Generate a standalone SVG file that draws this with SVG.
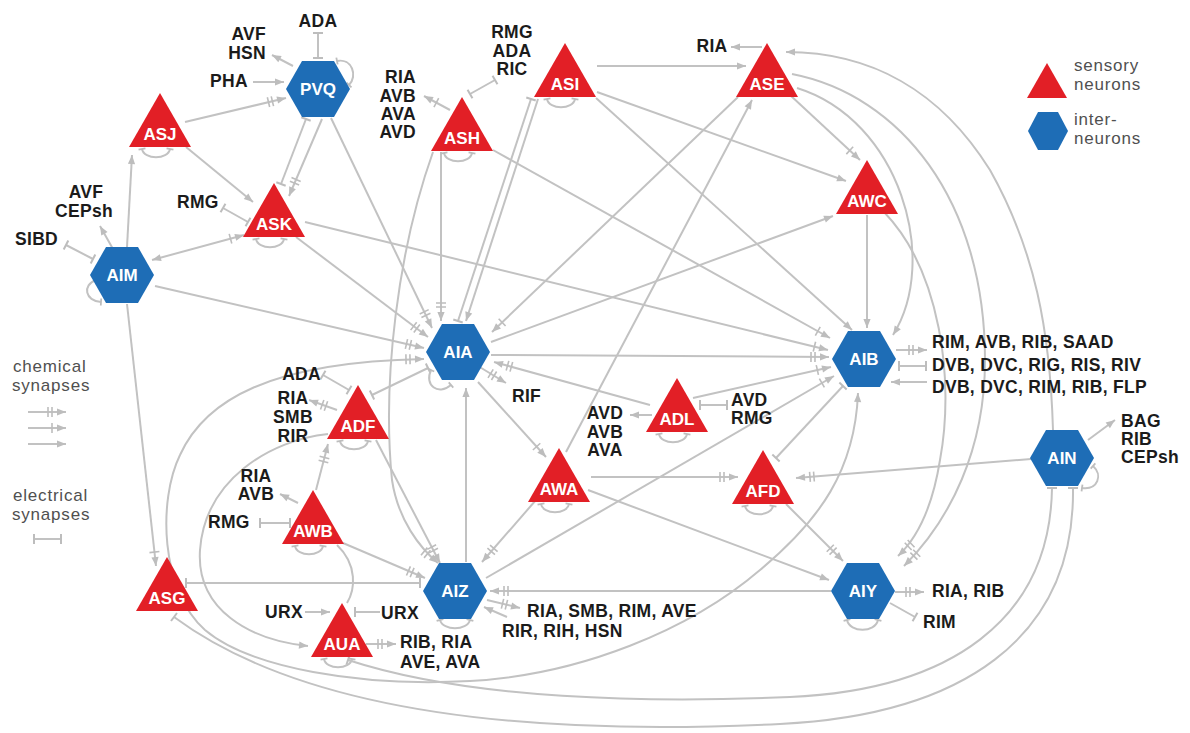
<svg xmlns="http://www.w3.org/2000/svg" width="1190" height="733" viewBox="0 0 1190 733">
<style>
.e{fill:none;stroke:#c2c2c2;stroke-width:2}
.lp{fill:none;stroke:#c2c2c2;stroke-width:2;marker-start:url(#bs);marker-end:url(#bs)}
.tri{fill:#e21f26}
.hex{fill:#1e6db6}
.nl{font-family:"Liberation Sans",Arial,sans-serif;font-weight:bold;font-size:17px;fill:#fff;text-anchor:middle}
.t{font-family:"Liberation Sans",Arial,sans-serif;font-weight:bold;font-size:17.5px;fill:#1b1b1b;letter-spacing:.3px}
.lg{font-family:"Liberation Sans",Arial,sans-serif;font-size:17px;fill:#505050;letter-spacing:.8px}
.m{text-anchor:middle}
.n{text-anchor:end}
</style>
<defs>
<marker id="a0" viewBox="-22 -7 24 14" refX="0" refY="0" markerWidth="24" markerHeight="14" markerUnits="userSpaceOnUse" orient="auto-start-reverse">
<path d="M0,0 L-9,-3.6 L-9,3.6 Z" fill="#bdbdbd"/>
</marker>
<marker id="a1" viewBox="-22 -7 24 14" refX="0" refY="0" markerWidth="24" markerHeight="14" markerUnits="userSpaceOnUse" orient="auto-start-reverse">
<path d="M0,0 L-9,-3.6 L-9,3.6 Z" fill="#bdbdbd"/>
<path d="M-14,-5 V5" stroke="#bdbdbd" stroke-width="1.6"/>
</marker>
<marker id="a2" viewBox="-22 -7 24 14" refX="0" refY="0" markerWidth="24" markerHeight="14" markerUnits="userSpaceOnUse" orient="auto-start-reverse">
<path d="M0,0 L-9,-3.6 L-9,3.6 Z" fill="#bdbdbd"/>
<path d="M-14,-5 V5 M-18,-5 V5" stroke="#bdbdbd" stroke-width="1.6"/>
</marker>
<marker id="b" viewBox="-3 -7 6 14" refX="0" refY="0" markerWidth="6" markerHeight="14" markerUnits="userSpaceOnUse" orient="auto">
<path d="M0,-5 V5" stroke="#bdbdbd" stroke-width="2"/>
</marker>
<marker id="bs" viewBox="-3 -5 6 10" refX="0" refY="0" markerWidth="6" markerHeight="10" markerUnits="userSpaceOnUse" orient="auto">
<path d="M0,-3.5 V3.5" stroke="#bdbdbd" stroke-width="1.8"/>
</marker>
</defs>
<rect width="1190" height="733" fill="#fff"/>

<g id="connectors">
<!-- big curves -->
<path class="e" d="M858,393 C855,470 820,520 760,570 C690,630 580,675 470,681 C360,687 250,668 205,630 C160,590 158,500 180,455 C205,400 270,362 424,359" marker-start="url(#a0)" marker-end="url(#a2)"/>
<path class="e" d="M328,434 C270,440 205,480 200,550 C196,610 250,640 308,646" marker-end="url(#a0)"/>
<path class="e" d="M1073,488 C1075,640 960,715 780,724 C580,734 320,725 174,617" marker-start="url(#b)" marker-end="url(#b)"/>
<path class="e" d="M1052,488 C1050,620 950,690 790,697 C650,703 470,700 348,660" marker-start="url(#b)" marker-end="url(#b)"/>
<path class="e" d="M1053,430 C1050,330 1035,250 990,170 C940,90 870,52 786,52" marker-end="url(#a0)"/>
<path class="e" d="M797,88 C900,120 940,260 893,335" marker-end="url(#a0)"/>
<path class="e" d="M792,74 C900,95 985,200 985,360 C985,450 950,520 904,566" marker-end="url(#a2)"/>
<path class="e" d="M884,212 C940,270 955,380 940,460 C932,510 915,540 898,556" marker-end="url(#a2)"/>
<path class="e" d="M433,152 C398,250 382,380 392,480 C398,520 420,548 438,563" marker-end="url(#a2)"/>
<path class="e" d="M337,545 C358,565 355,590 347,603"/>

<!-- top-left -->
<path class="e" d="M318,33 L318,58" marker-start="url(#b)" marker-end="url(#b)"/>
<path class="e" d="M293,66 L272,55" marker-end="url(#a0)"/>
<path class="e" d="M253,82 L284,82" marker-end="url(#a0)"/>
<path class="e" d="M185,122 L286,98" marker-end="url(#a2)"/>
<path class="e" d="M186,147 L253,202" marker-end="url(#a0)"/>
<path class="e" d="M306,119 L281,184" marker-start="url(#b)" marker-end="url(#b)"/>
<path class="e" d="M322,119 L289,196" marker-end="url(#a2)"/>
<path class="e" d="M331,118 L432,328" marker-end="url(#a2)"/>
<path class="e" d="M223,208 L248,222" marker-start="url(#b)" marker-end="url(#b)"/>
<path class="e" d="M152,260 L244,235" marker-start="url(#a0)" marker-end="url(#a1)"/>
<path class="e" d="M127,247 L132,155" marker-end="url(#a0)"/>
<path class="e" d="M113,249 L100,226" marker-end="url(#a0)"/>
<path class="e" d="M66,245 L93,259" marker-start="url(#b)" marker-end="url(#b)"/>
<path class="e" d="M155,286 L424,348" marker-end="url(#a2)"/>
<path class="e" d="M127,304 L156,566" marker-end="url(#a1)"/>
<path class="e" d="M296,237 L428,337" marker-end="url(#a2)"/>
<path class="e" d="M305,222 L828,350" marker-end="url(#a1)"/>

<!-- top-center -->
<path class="e" d="M450,110 L424,96" marker-end="url(#a1)"/>
<path class="e" d="M470,94 L495,80" marker-start="url(#b)" marker-end="url(#b)"/>
<path class="e" d="M597,66 L746,66" marker-end="url(#a0)"/>
<path class="e" d="M762,47 L731,47" marker-end="url(#a0)"/>
<path class="e" d="M441,152 L441,321" marker-end="url(#a2)"/>
<path class="e" d="M538,99 L466,321" marker-end="url(#a0)"/>
<path class="e" d="M531,99 L458,321" marker-start="url(#b)" marker-end="url(#b)"/>
<path class="e" d="M738,97 L492,332" marker-end="url(#a1)"/>
<path class="e" d="M566,452 L752,100" marker-end="url(#a0)"/>
<path class="e" d="M790,95 L860,160" marker-end="url(#a1)"/>
<path class="e" d="M597,92 L846,181" marker-end="url(#a0)"/>
<path class="e" d="M596,98 L852,330" marker-end="url(#a0)"/>
<path class="e" d="M493,150 L830,338" marker-end="url(#a1)"/>
<path class="e" d="M491,342 L833,216" marker-end="url(#a0)"/>
<path class="e" d="M867,215 L867,328" marker-end="url(#a0)"/>

<!-- center -->
<path class="e" d="M491,355 L829,357" marker-end="url(#a2)"/>
<path class="e" d="M650,405 L494,362" marker-end="url(#a2)"/>
<path class="e" d="M478,366 L506,383" marker-end="url(#a2)"/>
<path class="e" d="M478,382 L546,457" marker-end="url(#a1)"/>
<path class="e" d="M466,562 L466,388" marker-end="url(#a0)"/>
<path class="e" d="M428,368 L372,395" marker-start="url(#b)" marker-end="url(#b)"/>

<!-- lower-left -->
<path class="e" d="M305,612 L330,612" marker-end="url(#a0)"/>
<path class="e" d="M355,612 L380,612" marker-start="url(#b)"/>
<path class="e" d="M366,644 L396,644" marker-end="url(#a2)"/>
<path class="e" d="M316,490 L328,444" marker-end="url(#a2)"/>
<path class="e" d="M298,503 L280,494" marker-end="url(#a0)"/>
<path class="e" d="M260,523 L290,523" marker-start="url(#b)" marker-end="url(#b)"/>
<path class="e" d="M343,543 L425,578" marker-end="url(#a2)"/>
<path class="e" d="M337,410 L309,400" marker-end="url(#a2)"/>
<path class="e" d="M323,375 L349,390" marker-start="url(#b)" marker-end="url(#b)"/>
<path class="e" d="M376,440 L440,563" marker-end="url(#a2)"/>
<path class="e" d="M186,583 L420,583" marker-start="url(#b)" marker-end="url(#b)"/>

<!-- lower-center / right -->
<path class="e" d="M536,500 L482,562" marker-end="url(#a2)"/>
<path class="e" d="M486,578 L834,376" marker-end="url(#a1)"/>
<path class="e" d="M831,591 L490,591" marker-end="url(#a2)"/>
<path class="e" d="M487,600 L520,608" marker-end="url(#a2)"/>
<path class="e" d="M507,617 L484,607" marker-end="url(#a0)"/>
<path class="e" d="M591,477 L738,477" marker-end="url(#a2)"/>
<path class="e" d="M588,490 L829,580" marker-end="url(#a0)"/>
<path class="e" d="M1031,459 L796,478" marker-end="url(#a2)"/>
<path class="e" d="M786,504 L843,561" marker-end="url(#a2)"/>
<path class="e" d="M843,386 L776,458" marker-start="url(#b)" marker-end="url(#b)"/>
<path class="e" d="M652,415 L630,415" marker-end="url(#a0)"/>
<path class="e" d="M700,405 L727,405" marker-start="url(#b)" marker-end="url(#b)"/>
<path class="e" d="M693,398 L831,367" marker-end="url(#a1)"/>
<path class="e" d="M896,350 L927,350" marker-end="url(#a2)"/>
<path class="e" d="M899,366 L926,366" marker-start="url(#b)" marker-end="url(#b)"/>
<path class="e" d="M927,382 L891,382" marker-end="url(#a0)"/>
<path class="e" d="M1088,440 L1115,420" marker-end="url(#a0)"/>
<path class="e" d="M895,592 L924,592" marker-end="url(#a2)"/>
<path class="e" d="M890,603 L915,617" marker-end="url(#b)"/>

<!-- self loops -->
<path class="lp" d="M142,149 C144,160 168,160 170,149"/>
<path class="lp" d="M256,239 C258,250 282,250 284,239"/>
<path class="lp" d="M444,153 C446,164 470,164 472,153"/>
<path class="lp" d="M547,99 C549,110 573,110 575,99"/>
<path class="lp" d="M340,441 C342,452 366,452 368,441"/>
<path class="lp" d="M295,546 C297,557 321,557 323,546"/>
<path class="lp" d="M659,434 C661,445 685,445 687,434"/>
<path class="lp" d="M541,504 C543,515 567,515 569,504"/>
<path class="lp" d="M745,506 C747,517 771,517 773,506"/>
<path class="lp" d="M324,659 C326,670 350,670 352,659"/>
<path class="lp" d="M337,61 C352,58 358,76 349,85"/>
<path class="lp" d="M96,280 C82,285 85,301 101,302"/>
<path class="lp" d="M431,370 C424,385 438,396 451,385"/>
<path class="lp" d="M440,620 C443,631 467,631 470,620"/>
<path class="lp" d="M847,620 C850,633 875,633 878,620"/>
<path class="lp" d="M1093,466 C1103,475 1098,490 1082,488"/>
</g>

<g id="node-ASJ"><polygon class="tri" points="160,93 129,147 191,147"/><text class="nl" x="160" y="140">ASJ</text></g>
<g id="node-ASK"><polygon class="tri" points="274,183 243,237 305,237"/><text class="nl" x="274" y="230">ASK</text></g>
<g id="node-ASH"><polygon class="tri" points="462,97 431,151 493,151"/><text class="nl" x="462" y="144">ASH</text></g>
<g id="node-ASI"><polygon class="tri" points="565,43 534,97 596,97"/><text class="nl" x="565" y="90">ASI</text></g>
<g id="node-ASE"><polygon class="tri" points="767,43 736,97 798,97"/><text class="nl" x="767" y="90">ASE</text></g>
<g id="node-AWC"><polygon class="tri" points="867,160 836,214 898,214"/><text class="nl" x="867" y="207">AWC</text></g>
<g id="node-ADF"><polygon class="tri" points="358,385 327,439 389,439"/><text class="nl" x="358" y="432">ADF</text></g>
<g id="node-AWB"><polygon class="tri" points="313,490 282,544 344,544"/><text class="nl" x="313" y="537">AWB</text></g>
<g id="node-ADL"><polygon class="tri" points="677,378 646,432 708,432"/><text class="nl" x="677" y="425">ADL</text></g>
<g id="node-AWA"><polygon class="tri" points="559,448 528,502 590,502"/><text class="nl" x="559" y="495">AWA</text></g>
<g id="node-AFD"><polygon class="tri" points="763,450 732,504 794,504"/><text class="nl" x="763" y="497">AFD</text></g>
<g id="node-ASG"><polygon class="tri" points="167,557 136,611 198,611"/><text class="nl" x="167" y="604">ASG</text></g>
<g id="node-AUA"><polygon class="tri" points="342,603 311,657 373,657"/><text class="nl" x="342" y="650">AUA</text></g>

<g id="node-PVQ"><polygon class="hex" points="286,89 302,61 334,61 350,89 334,117 302,117"/><text class="nl" x="318" y="95">PVQ</text></g>
<g id="node-AIM"><polygon class="hex" points="90,275 106,247 138,247 154,275 138,303 106,303"/><text class="nl" x="122" y="281">AIM</text></g>
<g id="node-AIA"><polygon class="hex" points="426,352 442,324 474,324 490,352 474,380 442,380"/><text class="nl" x="458" y="358">AIA</text></g>
<g id="node-AIB"><polygon class="hex" points="832,359 848,331 880,331 896,359 880,387 848,387"/><text class="nl" x="864" y="365">AIB</text></g>
<g id="node-AIN"><polygon class="hex" points="1030,458 1046,430 1078,430 1094,458 1078,486 1046,486"/><text class="nl" x="1062" y="464">AIN</text></g>
<g id="node-AIZ"><polygon class="hex" points="423,591 439,563 471,563 487,591 471,619 439,619"/><text class="nl" x="455" y="597">AIZ</text></g>
<g id="node-AIY"><polygon class="hex" points="831,591 847,563 879,563 895,591 879,619 847,619"/><text class="nl" x="863" y="597">AIY</text></g>

<g id="labels">
<text class="t m" x="318" y="27">ADA</text>
<text class="t n" x="266" y="40">AVF</text>
<text class="t n" x="266" y="59">HSN</text>
<text class="t" x="210" y="87">PHA</text>
<text class="t" x="177" y="208">RMG</text>
<text class="t m" x="86" y="198">AVF</text>
<text class="t m" x="84" y="217">CEPsh</text>
<text class="t" x="15" y="245">SIBD</text>
<text class="t n" x="416" y="83">RIA</text>
<text class="t n" x="416" y="102">AVB</text>
<text class="t n" x="416" y="120">AVA</text>
<text class="t n" x="416" y="138">AVD</text>
<text class="t m" x="512" y="38">RMG</text>
<text class="t m" x="512" y="57">ADA</text>
<text class="t m" x="512" y="75">RIC</text>
<text class="t m" x="712" y="52">RIA</text>
<text class="t n" x="321" y="380">ADA</text>
<text class="t m" x="293" y="404">RIA</text>
<text class="t m" x="293" y="423">SMB</text>
<text class="t m" x="293" y="442">RIR</text>
<text class="t m" x="256" y="482">RIA</text>
<text class="t m" x="256" y="500">AVB</text>
<text class="t" x="208" y="528">RMG</text>
<text class="t" x="265" y="618">URX</text>
<text class="t" x="381" y="619">URX</text>
<text class="t" x="400" y="648">RIB, RIA</text>
<text class="t" x="400" y="668">AVE, AVA</text>
<text class="t" x="512" y="402">RIF</text>
<text class="t m" x="605" y="419">AVD</text>
<text class="t m" x="605" y="438">AVB</text>
<text class="t m" x="605" y="456">AVA</text>
<text class="t" x="731" y="406">AVD</text>
<text class="t" x="731" y="424">RMG</text>
<text class="t" x="527" y="617">RIA, SMB, RIM, AVE</text>
<text class="t" x="502" y="637">RIR, RIH, HSN</text>
<text class="t" x="932" y="348">RIM, AVB, RIB, SAAD</text>
<text class="t" x="932" y="371">DVB, DVC, RIG, RIS, RIV</text>
<text class="t" x="932" y="393">DVB, DVC, RIM, RIB, FLP</text>
<text class="t" x="1121" y="427">BAG</text>
<text class="t" x="1121" y="445">RIB</text>
<text class="t" x="1121" y="463">CEPsh</text>
<text class="t" x="932" y="597">RIA, RIB</text>
<text class="t" x="923" y="628">RIM</text>
</g>

<g id="legend">
<polygon class="tri" points="1047,63 1027,98 1067,98"/>
<polygon class="hex" points="1028,131 1038,112 1058,112 1068,131 1058,150 1038,150"/>
<text class="lg" x="1074" y="71">sensory</text>
<text class="lg" x="1074" y="90">neurons</text>
<text class="lg" x="1074" y="125">inter-</text>
<text class="lg" x="1074" y="144">neurons</text>
<text class="lg" x="13" y="372">chemical</text>
<text class="lg" x="12" y="391">synapses</text>
<path class="e" d="M28,412 L66,412" marker-end="url(#a2)"/>
<path class="e" d="M28,428 L66,428" marker-end="url(#a1)"/>
<path class="e" d="M28,444 L66,444" marker-end="url(#a0)"/>
<text class="lg" x="13" y="501">electrical</text>
<text class="lg" x="12" y="520">synapses</text>
<path class="e" d="M34,539 L61,539" marker-start="url(#b)" marker-end="url(#b)"/>
</g>
</svg>
